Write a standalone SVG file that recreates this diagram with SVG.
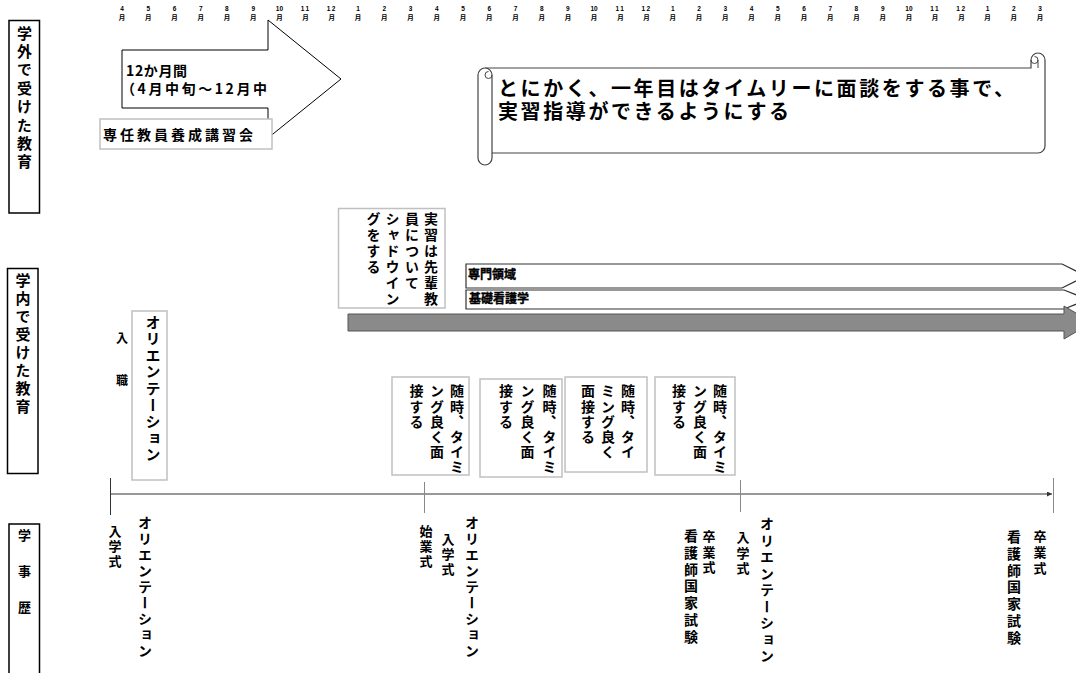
<svg xmlns="http://www.w3.org/2000/svg" width="1076" height="673" viewBox="0 0 1076 673">
<style>
text{font-family:"Noto Sans CJK JP","Noto Sans CJK SC",sans-serif;font-weight:bold;fill:#000}
.m{font-size:6.5px;text-anchor:middle}
.d{font-family:"Liberation Sans",Arial,sans-serif;font-size:6.5px;text-anchor:middle}
.v{writing-mode:vertical-rl}
.hd{fill:#fff;stroke:#000;stroke-width:1.5}
.lb{fill:#fff;stroke:#c0c0c0;stroke-width:1.5}
.ln{fill:none;stroke:#333;stroke-width:1}
.tk{fill:none;stroke:#888;stroke-width:1}
</style>
<defs>
<marker id="ah" viewBox="0 0 6 6" refX="6" refY="3" markerWidth="5" markerHeight="5" orient="auto"><path d="M0,0 L6,3 L0,6 Z" fill="#333"/></marker>
</defs>
<rect width="1076" height="673" fill="#fff"/>

<g id="months">
<text class="d" x="122" y="11">4</text><text class="m" x="122" y="20">月</text>
<text class="d" x="148.2" y="11">5</text><text class="m" x="148.2" y="20">月</text>
<text class="d" x="174.5" y="11">6</text><text class="m" x="174.5" y="20">月</text>
<text class="d" x="200.7" y="11">7</text><text class="m" x="200.7" y="20">月</text>
<text class="d" x="226.9" y="11">8</text><text class="m" x="226.9" y="20">月</text>
<text class="d" x="253.2" y="11">9</text><text class="m" x="253.2" y="20">月</text>
<text class="d" x="279.4" y="11">10</text><text class="m" x="279.4" y="20">月</text>
<text class="d" x="305.6" y="11" letter-spacing="1.5">11</text><text class="m" x="305.6" y="20">月</text>
<text class="d" x="331.8" y="11" letter-spacing="1.5">12</text><text class="m" x="331.8" y="20">月</text>
<text class="d" x="358.1" y="11">1</text><text class="m" x="358.1" y="20">月</text>
<text class="d" x="384.3" y="11">2</text><text class="m" x="384.3" y="20">月</text>
<text class="d" x="410.5" y="11">3</text><text class="m" x="410.5" y="20">月</text>
<text class="d" x="436.8" y="11">4</text><text class="m" x="436.8" y="20">月</text>
<text class="d" x="463" y="11">5</text><text class="m" x="463" y="20">月</text>
<text class="d" x="489.2" y="11">6</text><text class="m" x="489.2" y="20">月</text>
<text class="d" x="515.5" y="11">7</text><text class="m" x="515.5" y="20">月</text>
<text class="d" x="541.7" y="11">8</text><text class="m" x="541.7" y="20">月</text>
<text class="d" x="567.9" y="11">9</text><text class="m" x="567.9" y="20">月</text>
<text class="d" x="594.1" y="11">10</text><text class="m" x="594.1" y="20">月</text>
<text class="d" x="620.4" y="11" letter-spacing="1.5">11</text><text class="m" x="620.4" y="20">月</text>
<text class="d" x="646.6" y="11" letter-spacing="1.5">12</text><text class="m" x="646.6" y="20">月</text>
<text class="d" x="672.8" y="11">1</text><text class="m" x="672.8" y="20">月</text>
<text class="d" x="699.1" y="11">2</text><text class="m" x="699.1" y="20">月</text>
<text class="d" x="725.3" y="11">3</text><text class="m" x="725.3" y="20">月</text>
<text class="d" x="751.5" y="11">4</text><text class="m" x="751.5" y="20">月</text>
<text class="d" x="777.8" y="11">5</text><text class="m" x="777.8" y="20">月</text>
<text class="d" x="804" y="11">6</text><text class="m" x="804" y="20">月</text>
<text class="d" x="830.2" y="11">7</text><text class="m" x="830.2" y="20">月</text>
<text class="d" x="856.4" y="11">8</text><text class="m" x="856.4" y="20">月</text>
<text class="d" x="882.7" y="11">9</text><text class="m" x="882.7" y="20">月</text>
<text class="d" x="908.9" y="11">10</text><text class="m" x="908.9" y="20">月</text>
<text class="d" x="935.1" y="11" letter-spacing="1.5">11</text><text class="m" x="935.1" y="20">月</text>
<text class="d" x="961.4" y="11" letter-spacing="1.5">12</text><text class="m" x="961.4" y="20">月</text>
<text class="d" x="987.6" y="11">1</text><text class="m" x="987.6" y="20">月</text>
<text class="d" x="1013.8" y="11">2</text><text class="m" x="1013.8" y="20">月</text>
<text class="d" x="1040.1" y="11">3</text><text class="m" x="1040.1" y="20">月</text>
</g>

<g id="row-outside">
<rect class="hd" x="9" y="20.5" width="30.5" height="192.5"/>
<text class="v" x="24.5" y="25.5" font-size="15" letter-spacing="3.4">学外で受けた教育</text>
</g>
<g id="row-inside">
<rect class="hd" x="7.5" y="268.5" width="30.5" height="205"/>
<text class="v" x="23" y="272.5" font-size="15" letter-spacing="3">学内で受けた教育</text>
</g>
<g id="row-calendar">
<rect class="hd" x="9" y="524" width="30.5" height="150"/>
<text class="v" x="24.5" y="528.5" font-size="13" letter-spacing="23">学事歴</text>
</g>

<g id="course-arrow">
<path d="M122,50 H268 V20 L341,79 L268,138 V108 H122 Z" fill="#fff" stroke="#000" stroke-width="1"/>
<text x="126" y="76" font-size="14" textLength="61" lengthAdjust="spacing">12か月間</text>
<text x="121" y="94" font-size="14" textLength="146" lengthAdjust="spacing">（4月中旬～12月中</text>
</g>
<g id="course-label">
<rect class="lb" x="100" y="119" width="172" height="30"/>
<text x="103" y="140" font-size="14" textLength="150" lengthAdjust="spacing">専任教員養成講習会</text>
</g>

<g id="scroll">
<path d="M485,68 H1031 V60 A7,7 0 0 1 1045,60 V146 A7,7 0 0 1 1038,153 H492" fill="#fff" stroke="#444" stroke-width="1.2"/>
<path d="M485,68 A7,7 0 0 0 478,75 V158 A7,7 0 0 0 492,158 V75 A7,7 0 0 0 485,68 Z" fill="#fff" stroke="#444" stroke-width="1.2"/>
<path d="M492,75 A3.5,3.5 0 0 1 485,75 A3.5,3.5 0 0 1 488.5,71.5" fill="none" stroke="#444" stroke-width="1"/>
<path d="M1031,60 A3.5,3.5 0 0 0 1038,60 V68" fill="none" stroke="#444" stroke-width="1"/>
<path d="M1038,60 A3.5,3.5 0 0 0 1034.5,56.5" fill="none" stroke="#444" stroke-width="1"/>
<text x="498" y="96" font-size="20" letter-spacing="2.6">とにかく、一年目はタイムリーに面談をする事で、</text>
<text x="498" y="119" font-size="20" letter-spacing="2.6">実習指導ができるようにする</text>
</g>

<g id="shadowing">
<rect class="lb" x="338.5" y="208.5" width="106.5" height="99.5"/>
<text class="v" x="431" y="211.3" font-size="14" letter-spacing="2">実習は先輩教</text>
<text class="v" x="412" y="211.3" font-size="14" letter-spacing="2">員について</text>
<text class="v" x="392.5" y="211.3" font-size="14" letter-spacing="2">シャドウイン</text>
<text class="v" x="373.5" y="211.3" font-size="14" letter-spacing="2">グをする</text>
</g>

<g id="bar-senmon">
<path d="M466,264 H1062 L1086,276 L1062,288 H466 Z" fill="#fff" stroke="#333" stroke-width="1.2"/>
<text x="468" y="279" font-size="12" stroke="#000" stroke-width="0.4">専門領域</text>
</g>
<g id="bar-kiso">
<path d="M466,290 H1064 L1088,299.5 L1064,309 H466 Z" fill="#fff" stroke="#333" stroke-width="1.2"/>
<text x="469" y="303" font-size="12" stroke="#000" stroke-width="0.4">基礎看護学</text>
</g>
<g id="bar-gray">
<path d="M348,314 H1064 V306 L1092,322.5 L1064,339 V331 H348 Z" fill="#8a8a8a" stroke="#555" stroke-width="1"/>
</g>

<g id="nyushoku">
<text class="v" x="122" y="332" font-size="12" letter-spacing="30">入職</text>
</g>
<g id="orientation-box">
<rect class="lb" x="132" y="311" width="35" height="169"/>
<text class="v" x="153" y="314.5" font-size="15" letter-spacing="1.6">オリエンテーション</text>
</g>

<g id="interview-1">
<rect class="lb" x="392" y="377" width="77" height="98"/>
<text class="v" x="457" y="384" font-size="14" letter-spacing="1.2">随時、タイミ</text>
<text class="v" x="437" y="384" font-size="14" letter-spacing="1.2">ング良く面</text>
<text class="v" x="416.5" y="384" font-size="14" letter-spacing="1.2">接する</text>
</g>
<g id="interview-2">
<rect class="lb" x="480" y="379" width="82" height="98"/>
<text class="v" x="549.5" y="384" font-size="14" letter-spacing="1.2">随時、タイミ</text>
<text class="v" x="527.5" y="384" font-size="14" letter-spacing="1.2">ング良く面</text>
<text class="v" x="506" y="384" font-size="14" letter-spacing="1.2">接する</text>
</g>
<g id="interview-3">
<rect class="lb" x="565" y="377" width="82" height="95"/>
<text class="v" x="628" y="384" font-size="14" letter-spacing="1.2">随時、タイ</text>
<text class="v" x="608" y="384" font-size="14" letter-spacing="1.2">ミング良く</text>
<text class="v" x="588" y="384" font-size="14" letter-spacing="1.2">面接する</text>
</g>
<g id="interview-4">
<rect class="lb" x="655" y="377" width="80" height="98"/>
<text class="v" x="720" y="384" font-size="14" letter-spacing="1.2">随時、タイミ</text>
<text class="v" x="700" y="384" font-size="14" letter-spacing="1.2">ング良く面</text>
<text class="v" x="679" y="384" font-size="14" letter-spacing="1.2">接する</text>
</g>

<g id="connectors">
<line class="ln" x1="110" y1="494" x2="1052" y2="494" marker-end="url(#ah)"/>
<line x1="110.5" y1="478" x2="110.5" y2="515" stroke="#333" stroke-width="1"/>
<line class="tk" x1="424.5" y1="482" x2="424.5" y2="513"/>
<line class="tk" x1="740.5" y1="480" x2="740.5" y2="512"/>
<line class="tk" x1="1053.5" y1="478" x2="1053.5" y2="513"/>
</g>

<g id="events">
<text class="v" x="115" y="525" font-size="13" letter-spacing="2">入学式</text>
<text class="v" x="145" y="516" font-size="14" letter-spacing="2">オリエンテーション</text>
<text class="v" x="426" y="525" font-size="13" letter-spacing="2">始業式</text>
<text class="v" x="448" y="533" font-size="13" letter-spacing="2">入学式</text>
<text class="v" x="472" y="516" font-size="14" letter-spacing="2">オリエンテーション</text>
<text class="v" x="691" y="529" font-size="14" letter-spacing="2.7">看護師国家試験</text>
<text class="v" x="709" y="530" font-size="13" letter-spacing="2.5">卒業式</text>
<text class="v" x="743" y="531" font-size="13" letter-spacing="2.5">入学式</text>
<text class="v" x="767" y="517" font-size="14" letter-spacing="2.5">オリエンテーション</text>
<text class="v" x="1014" y="530" font-size="14" letter-spacing="2.7">看護師国家試験</text>
<text class="v" x="1040" y="530" font-size="13" letter-spacing="3">卒業式</text>
</g>
</svg>
